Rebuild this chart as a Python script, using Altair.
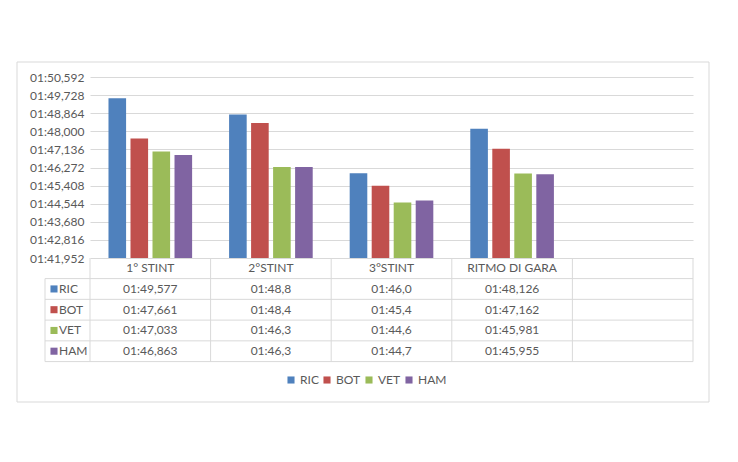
import altair as alt
import pandas as pd

# ---- data ----
series = ["RIC", "BOT", "VET", "HAM"]
colors = ["#4f81bd", "#c0504d", "#9bbb59", "#8064a2"]
categories = ["1° STINT", "2°STINT", "3°STINT", "RITMO DI GARA"]
empty_column = " "

ric_times = ["01:49,577", "01:48,8", "01:46,0", "01:48,126"]
bot_times = ["01:47,661", "01:48,4", "01:45,4", "01:47,162"]
vet_times = ["01:47,033", "01:46,3", "01:44,6", "01:45,981"]
ham_times = ["01:46,863", "01:46,3", "01:44,7", "01:45,955"]

y_tick_labels = ["01:41,952", "01:42,816", "01:43,680", "01:44,544", "01:45,408",
                 "01:46,272", "01:47,136", "01:48,000", "01:48,864", "01:49,728",
                 "01:50,592"]


def to_seconds(s):
    m, rest = s.split(":")
    return int(m) * 60 + float(rest.replace(",", "."))


all_times = {"RIC": ric_times, "BOT": bot_times, "VET": vet_times, "HAM": ham_times}

bar_rows = []
for s in series:
    for c, t in zip(categories, all_times[s]):
        bar_rows.append({"category": c, "series": s, "seconds": to_seconds(t), "text": t, "row": s})
bar_df = pd.DataFrame(bar_rows)

header_df = pd.DataFrame({"category": categories, "row": ["hdr"] * len(categories), "text": categories})
table_df = pd.concat([header_df, bar_df[["category", "row", "text"]]], ignore_index=True)

key_df = pd.DataFrame({"row": series, "color": colors, "text": series})
rows_df = pd.DataFrame({"row": ["hdr"] + series})
cols_df = pd.DataFrame({"category": categories + [empty_column]})

y_ticks = [to_seconds(t) for t in y_tick_labels]

# ---- styling ----
FONT = "Lato"
TXT = "#595959"
GRID = "#d9d9d9"
W, H = 603, 181

x_scale = alt.Scale(type="band", domain=categories + [empty_column], paddingInner=0, paddingOuter=0)
row_scale = alt.Scale(type="point", domain=["hdr"] + series, range=[191.2, 274.2], padding=0)

label_expr = ("(floor(datum.value/60) < 10 ? '0' : '') + floor(datum.value/60) + ':' + "
              "replace(format(datum.value - floor(datum.value/60)*60, '06.3f'), '.', ',')")

bars = alt.Chart(bar_df).mark_bar().encode(
    x=alt.X("category:N", scale=x_scale, axis=None),
    xOffset=alt.XOffset("series:N", sort=series,
                        scale=alt.Scale(domain=series, paddingInner=0.2, paddingOuter=0.84)),
    y=alt.Y("seconds:Q",
            scale=alt.Scale(domain=[y_ticks[0], y_ticks[-1]], zero=False, nice=False),
            axis=alt.Axis(values=y_ticks, labelExpr=label_expr, title=None, domain=False,
                          ticks=False, grid=True, gridColor=GRID, labelColor=TXT,
                          labelFont=FONT, labelFontSize=12, labelPadding=6)),
    y2=alt.datum(y_ticks[0]),
    color=alt.Color("series:N", scale=alt.Scale(domain=series, range=colors),
                    legend=alt.Legend(orient="none", legendX=195, legendY=297,
                                      direction="horizontal", title=None,
                                      symbolType="square", symbolSize=50,
                                      labelFont=FONT, labelFontSize=12, labelColor=TXT,
                                      columnPadding=2, labelOffset=3)),
)

table_text = alt.Chart(table_df).mark_text(font=FONT, fontSize=12, color=TXT).encode(
    x=alt.X("category:N", scale=x_scale, axis=None, bandPosition=0.5),
    y=alt.Y("row:N", scale=row_scale, axis=None),
    text="text:N",
)

key_squares = alt.Chart(key_df).mark_point(shape="square", filled=True, size=50, opacity=1).encode(
    x=alt.value(-36),
    y=alt.Y("row:N", scale=row_scale, axis=None),
    color=alt.Color("color:N", scale=None),
)

key_labels = alt.Chart(key_df).mark_text(font=FONT, fontSize=12, color=TXT, align="left").encode(
    x=alt.value(-31),
    y=alt.Y("row:N", scale=row_scale, axis=None),
    text="text:N",
)

h_rules = alt.Chart(rows_df).mark_rule(color=GRID, yOffset=10.4).encode(
    y=alt.Y("row:N", scale=row_scale, axis=None),
    x=alt.value(-45),
    x2=alt.value(W),
)

v_rules = alt.Chart(cols_df).mark_rule(color=GRID).encode(
    x=alt.X("category:N", scale=x_scale, axis=None, bandPosition=0),
    y=alt.value(H),
    y2=alt.value(284.6),
)

one = alt.Data(values=[{"a": 1}])
right_edge = alt.Chart(one).mark_rule(color=GRID).encode(
    x=alt.value(W), y=alt.value(H), y2=alt.value(284.6))
key_edge = alt.Chart(one).mark_rule(color=GRID).encode(
    x=alt.value(-45), y=alt.value(201.6), y2=alt.value(284.6))

border = alt.Chart(one).mark_rect(fillOpacity=0, stroke=GRID, strokeWidth=1).encode(
    x=alt.value(-73), x2=alt.value(619), y=alt.value(-15), y2=alt.value(325))

chart = alt.layer(
    border, v_rules, right_edge, key_edge, h_rules, bars, table_text, key_squares, key_labels
).resolve_scale(y="independent").properties(
    width=W, height=H,
    autosize=alt.AutoSizeParams(type="none"),
    padding={"left": 82, "top": 69, "right": 30, "bottom": 150},
    background="white",
).configure_view(strokeWidth=0)

chart.save("out.html", embed_options={"renderer": "svg", "actions": False})
